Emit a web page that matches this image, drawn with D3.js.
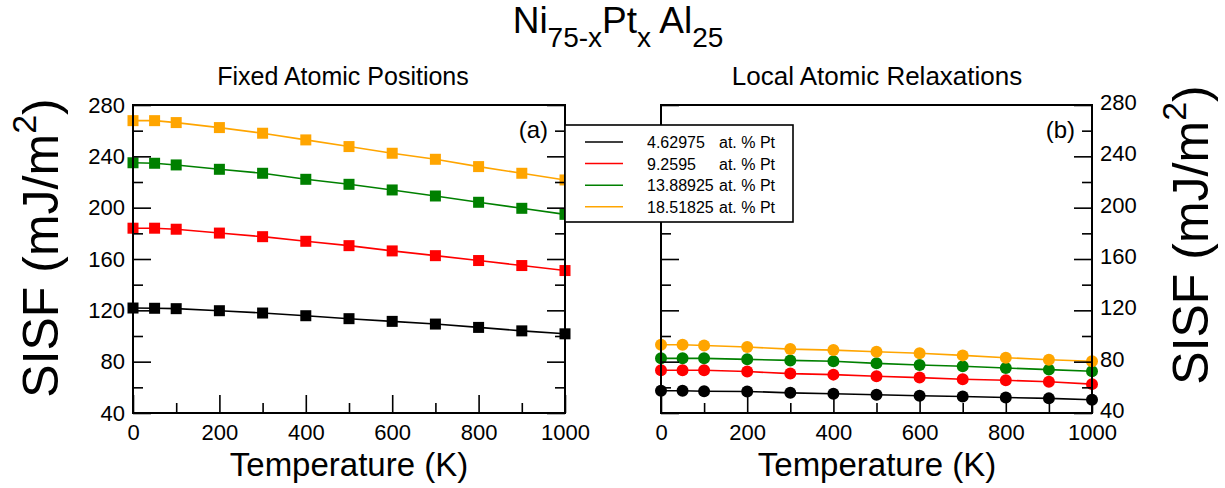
<!DOCTYPE html>
<html>
<head>
<meta charset="utf-8">
<script src="https://cdn.jsdelivr.net/npm/d3@7"></script>
<style>
  html, body { margin: 0; padding: 0; background: #fff; }
  svg { display: block; font-family: "Liberation Sans", Arial, sans-serif; }
</style>
</head>
<body>
<script>
'use strict';

// temperatures (K) at which SISF was computed
const temps = [0, 50, 100, 200, 300, 400, 500, 600, 700, 800, 900, 1000];
const ptLabels = ['4.62975', '9.2595', '13.88925', '18.51825'];

// (a) fixed atomic positions, mJ/m^2
const fixedPt1 = [121.8, 121.6, 121.3, 119.7, 117.9, 115.8, 113.5, 111.4, 109.3, 106.7, 104.0, 101.7];
const fixedPt2 = [184.0, 184.0, 183.2, 180.2, 177.4, 173.8, 170.4, 166.3, 162.6, 158.8, 154.9, 151.0];
const fixedPt3 = [235.0, 234.6, 233.3, 229.9, 226.8, 222.1, 218.2, 213.8, 209.1, 204.2, 199.5, 194.8];
const fixedPt4 = [267.8, 267.8, 266.3, 262.4, 258.0, 252.8, 247.6, 242.4, 237.7, 232.0, 226.8, 221.6];

// (b) local atomic relaxations, mJ/m^2
const relaxPt1 = [57.3, 57.3, 57.0, 56.8, 55.7, 55.0, 54.2, 53.4, 52.9, 52.1, 51.4, 50.3];
const relaxPt2 = [73.3, 73.3, 73.3, 72.3, 70.7, 69.9, 68.6, 67.6, 66.3, 65.5, 64.3, 62.5];
const relaxPt3 = [82.6, 82.6, 82.6, 81.8, 81.0, 80.3, 78.7, 77.4, 76.4, 75.1, 73.8, 72.5];
const relaxPt4 = [93.2, 93.2, 92.6, 91.4, 89.8, 89.0, 87.7, 86.5, 84.9, 83.1, 81.5, 80.3];

const xMajorTicks = [0, 200, 400, 600, 800, 1000];
const xMinorTicks = [100, 300, 500, 700, 900];
const yMajorTicks = [40, 80, 120, 160, 200, 240, 280];
const yMinorTicks = [60, 100, 140, 180, 220, 260];

const seriesColors = ['#000000', '#ff0000', '#008000', '#ffa500'];
const FONT = '"Liberation Sans", Arial, sans-serif';

function makePanel(box) {
    return {
        box: box,
        x: d3.scaleLinear().domain([0, 1000]).range([box.left, box.right]),
        y: d3.scaleLinear().domain([40, 280]).range([box.bottom, box.top])
    };
}

function styleAxis(g, size) {
    g.attr('font-size', size).attr('font-family', FONT);
    g.select('.domain').remove();
    g.selectAll('line').attr('stroke', '#000').attr('stroke-width', 1.6);
    g.selectAll('text').attr('fill', '#000');
}

function drawAxes(svg, p, labelsOnRight) {
    const b = p.box;
    const fmt = d3.format('d');
    // bottom
    svg.append('g').attr('transform', 'translate(0,' + b.bottom + ')')
        .call(d3.axisBottom(p.x).tickValues(xMajorTicks).tickSizeInner(-18).tickSizeOuter(0).tickPadding(11).tickFormat(fmt))
        .call(g => styleAxis(g, 22));
    svg.append('g').attr('transform', 'translate(0,' + b.bottom + ')')
        .call(d3.axisBottom(p.x).tickValues(xMinorTicks).tickSizeInner(-10).tickSizeOuter(0).tickFormat(''))
        .call(g => styleAxis(g, 22));
    // left and right
    const leftFmt = labelsOnRight ? '' : fmt;
    const rightFmt = labelsOnRight ? fmt : '';
    svg.append('g').attr('transform', 'translate(' + b.left + ',0)')
        .call(d3.axisLeft(p.y).tickValues(yMajorTicks).tickSizeInner(-18).tickSizeOuter(0).tickPadding(8).tickFormat(leftFmt))
        .call(g => styleAxis(g, 22));
    svg.append('g').attr('transform', 'translate(' + b.left + ',0)')
        .call(d3.axisLeft(p.y).tickValues(yMinorTicks).tickSizeInner(-10).tickSizeOuter(0).tickFormat(''))
        .call(g => styleAxis(g, 22));
    svg.append('g').attr('transform', 'translate(' + b.right + ',0)')
        .call(d3.axisRight(p.y).tickValues(yMajorTicks).tickSizeInner(-18).tickSizeOuter(0).tickPadding(8).tickFormat(rightFmt))
        .call(g => styleAxis(g, 22))
        .call(g => g.selectAll('text').attr('dy', '0.2em'));
    svg.append('g').attr('transform', 'translate(' + b.right + ',0)')
        .call(d3.axisRight(p.y).tickValues(yMinorTicks).tickSizeInner(-10).tickSizeOuter(0).tickFormat(''))
        .call(g => styleAxis(g, 22));
    // frame
    svg.append('rect')
        .attr('x', b.left).attr('y', b.top)
        .attr('width', b.right - b.left).attr('height', b.bottom - b.top)
        .attr('fill', 'none').attr('stroke', '#000').attr('stroke-width', 2);
}

function drawSeries(svg, p, seriesList, marker) {
    const line = d3.line().x((d, i) => p.x(temps[i])).y(d => p.y(d));
    seriesList.forEach((vals, k) => {
        const g = svg.append('g');
        g.append('path').datum(vals).attr('d', line)
            .attr('fill', 'none').attr('stroke', seriesColors[k]).attr('stroke-width', 1.6);
        if (marker === 'square') {
            g.selectAll('rect').data(vals).enter().append('rect')
                .attr('x', (d, i) => p.x(temps[i]) - 5.5)
                .attr('y', d => p.y(d) - 5.5)
                .attr('width', 11).attr('height', 11)
                .attr('fill', seriesColors[k]);
        } else {
            g.selectAll('circle').data(vals).enter().append('circle')
                .attr('cx', (d, i) => p.x(temps[i]))
                .attr('cy', d => p.y(d))
                .attr('r', 6)
                .attr('fill', seriesColors[k]);
        }
    });
}

function drawYTitle(svg, x, y) {
    const t = svg.append('text')
        .attr('transform', 'translate(' + x + ',' + y + ') rotate(-90)')
        .attr('text-anchor', 'middle')
        .attr('font-size', 50).attr('font-family', FONT);
    t.append('tspan').text('SISF (mJ/m');
    t.append('tspan').attr('font-size', 34).attr('dy', -22).text('2');
    t.append('tspan').attr('dy', 22).text(')');
}

function drawLegend(svg) {
    const lg = svg.append('g');
    lg.append('rect').attr('x', 565).attr('y', 125).attr('width', 228).attr('height', 97)
        .attr('fill', '#fff').attr('stroke', '#000').attr('stroke-width', 1.6);
    ptLabels.forEach((lab, k) => {
        const yy = 142 + k * 21.6;
        lg.append('line').attr('x1', 585).attr('x2', 623).attr('y1', yy).attr('y2', yy)
            .attr('stroke', seriesColors[k]).attr('stroke-width', 1.5);
        lg.append('text').attr('x', 647).attr('y', yy + 6).attr('font-size', 16)
            .attr('font-family', FONT).text(lab);
        lg.append('text').attr('x', 719).attr('y', yy + 6).attr('font-size', 16)
            .attr('font-family', FONT).text('at. % Pt');
    });
}

function draw() {
    const svg = d3.select('body').append('svg').attr('width', 1225).attr('height', 488);

    const left = makePanel({ left: 133, right: 565, top: 105, bottom: 413 });
    const right = makePanel({ left: 661, right: 1092, top: 105, bottom: 413 });

    drawSeries(svg, left, [fixedPt1, fixedPt2, fixedPt3, fixedPt4], 'square');
    drawSeries(svg, right, [relaxPt1, relaxPt2, relaxPt3, relaxPt4], 'circle');
    drawAxes(svg, left, false);
    drawAxes(svg, right, true);

    // main title
    const title = svg.append('text').attr('x', 618).attr('y', 33)
        .attr('text-anchor', 'middle').attr('font-size', 37).attr('font-family', FONT);
    title.append('tspan').text('Ni');
    title.append('tspan').attr('font-size', 28).attr('dy', 14).text('75-x');
    title.append('tspan').attr('dy', -14).text('Pt');
    title.append('tspan').attr('font-size', 28).attr('dy', 14).text('x');
    title.append('tspan').attr('dy', -14).text(' Al');
    title.append('tspan').attr('font-size', 28).attr('dy', 14).text('25');

    // panel titles
    svg.append('text').attr('x', 343).attr('y', 85).attr('text-anchor', 'middle')
        .attr('font-size', 25).attr('font-family', FONT).text('Fixed Atomic Positions');
    svg.append('text').attr('x', 877).attr('y', 85).attr('text-anchor', 'middle')
        .attr('font-size', 26).attr('font-family', FONT).text('Local Atomic Relaxations');

    // panel letters
    svg.append('text').attr('x', 548).attr('y', 138).attr('text-anchor', 'end')
        .attr('font-size', 24).attr('font-family', FONT).text('(a)');
    svg.append('text').attr('x', 1075).attr('y', 138).attr('text-anchor', 'end')
        .attr('font-size', 24).attr('font-family', FONT).text('(b)');

    // x titles
    svg.append('text').attr('x', 349).attr('y', 476).attr('text-anchor', 'middle')
        .attr('font-size', 33).attr('font-family', FONT).text('Temperature (K)');
    svg.append('text').attr('x', 877).attr('y', 476).attr('text-anchor', 'middle')
        .attr('font-size', 33).attr('font-family', FONT).text('Temperature (K)');

    // y titles
    drawYTitle(svg, 58, 248);
    drawYTitle(svg, 1208, 235);

    drawLegend(svg);
}

window.onload = draw;
</script>
</body>
</html>
